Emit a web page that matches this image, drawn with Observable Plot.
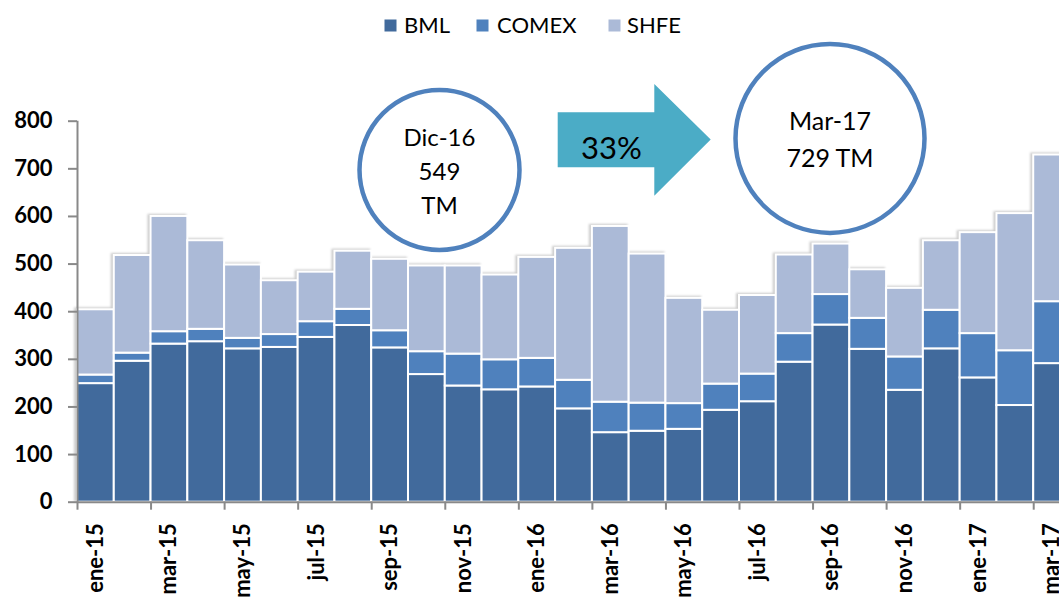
<!DOCTYPE html>
<html>
<head>
<meta charset="utf-8">
<script src="https://cdn.jsdelivr.net/npm/d3@7"></script>
<script src="https://cdn.jsdelivr.net/npm/@observablehq/plot@0.6"></script>
<style>
  html, body { margin: 0; padding: 0; background: #fff; overflow: hidden; }
  #wrap { position: relative; width: 1059px; height: 598px; overflow: hidden; font-family: Lato, "Open Sans", sans-serif; }
  #chart { position: absolute; left: 0; top: 0; width: 1070px; }
  #chart svg { max-width: none !important; }
  #legend { position: absolute; left: 0; top: 0; }
  #chart svg g[aria-label="y-axis tick label"] text,
  #chart svg g[aria-label="x-axis tick label"] text { font-weight: bold; }
  #chart svg g[aria-label="bar"] { filter: drop-shadow(-1.5px -0.5px 1px rgba(0,0,0,0.2)); }
</style>
</head>
<body>
<div id="wrap">
  <div id="chart"></div>
  <svg id="legend" width="1059" height="50"></svg>
</div>
<script>
// ---- data ----
const months = ["ene-15","feb-15","mar-15","abr-15","may-15","jun-15","jul-15","ago-15","sep-15","oct-15","nov-15","dic-15",
                "ene-16","feb-16","mar-16","abr-16","may-16","jun-16","jul-16","ago-16","sep-16","oct-16","nov-16","dic-16",
                "ene-17","feb-17","mar-17"];
const bml   = [249,296,332,337,322,325,346,371,324,268,244,236,242,196,146,149,153,193,211,294,372,321,235,322,261,203,291];
const comex = [18,17,26,26,22,27,33,34,36,48,67,63,60,60,64,59,54,55,58,60,64,65,70,81,93,115,130];
const shfe  = [137,205,242,186,154,113,104,122,150,180,185,178,212,277,369,313,221,155,165,165,106,102,144,146,212,288,308];
const series = ["BML","COMEX","SHFE"];
const colors = ["#416A9C","#4F81BD","#ABBAD7"];
const xTickLabels = ["ene-15","mar-15","may-15","jul-15","sep-15","nov-15","ene-16","mar-16","may-16","jul-16","sep-16","nov-16","ene-17","mar-17"];
const yTicks = [0,100,200,300,400,500,600,700,800];
const annoLeft = ["Dic-16","549","TM"];
const annoRight = ["Mar-17","729 TM"];
const annoPct = "33%";

// ---- table ----
const vals = {BML: bml, COMEX: comex, SHFE: shfe};
const rows = [];
months.forEach((m, i) => series.forEach(s => rows.push({month: m, series: s, value: vals[s][i]})));

const W = 1070, H = 598, ML = 77, MR = 0, MT = 120.7, MB = 96.3;
const bw = (W - ML - MR) / months.length;
const axisGray = "#898989";

const chart = Plot.plot({
  width: W, height: H,
  marginLeft: ML, marginRight: MR, marginTop: MT, marginBottom: MB,
  style: {fontFamily: "Lato, 'Open Sans', sans-serif", background: "transparent", color: "#000", overflow: "visible", maxWidth: "none"},
  x: {domain: months, padding: 0, round: false, label: null},
  y: {domain: [0, 800], label: null},
  color: {domain: series, range: colors},
  marks: [
    Plot.barY(rows, {x: "month", y: "value", fill: "series", stroke: "white", strokeWidth: 2}),
    Plot.ruleY([0], {stroke: axisGray, strokeWidth: 2}),
    Plot.ruleX([months[0]], {y1: 0, y2: 800, dx: -bw / 2, stroke: axisGray, strokeWidth: 2}),
    Plot.axisY({ticks: yTicks, tickSize: 9, tickPadding: 16, fontSize: 22, stroke: axisGray, strokeWidth: 2, fill: "#000"}),
    Plot.axisX({ticks: xTickLabels, tickSize: 8, tickFormat: () => "", dx: -bw / 2, stroke: axisGray, strokeWidth: 2}),
    Plot.axisX({ticks: xTickLabels, tickSize: 0, tickPadding: 21, tickRotate: -90, fontSize: 22, fill: "#000"})
  ]
});
document.getElementById("chart").appendChild(chart);

// ---- annotations ----
const svg = d3.select(chart);
const ann = svg.append("g").attr("font-family", "Lato, 'Open Sans', sans-serif").attr("fill", "#000");
// left circle
ann.append("circle").attr("cx", 439.5).attr("cy", 170).attr("r", 80)
  .attr("fill", "#fff").attr("stroke", "#4F81BD").attr("stroke-width", 4.5);
[145.7, 180, 214.3].forEach((y, i) =>
  ann.append("text").attr("x", 439.5).attr("y", y).attr("text-anchor", "middle").attr("font-size", 24).text(annoLeft[i]));
// arrow
ann.append("polygon")
  .attr("points", "557.7,112.3 654.3,112.3 654.3,84 710.7,139.6 654.3,195.7 654.3,167.3 557.7,167.3")
  .attr("fill", "#4BACC6");
ann.append("text").attr("x", 611.5).attr("y", 159).attr("text-anchor", "middle").attr("font-size", 31).text(annoPct);
// right circle
ann.append("circle").attr("cx", 830).attr("cy", 138.4).attr("r", 94.5)
  .attr("fill", "#fff").attr("stroke", "#4F81BD").attr("stroke-width", 4.5);
[130, 166.7].forEach((y, i) =>
  ann.append("text").attr("x", 830).attr("y", y).attr("text-anchor", "middle").attr("font-size", 25).text(annoRight[i]));

// ---- legend ----
const lg = d3.select("#legend").attr("font-family", "Lato, 'Open Sans', sans-serif");
const sqX = [384.5, 476.5, 608.5], txX = [404, 497, 627];
series.forEach((s, i) => {
  lg.append("rect").attr("x", sqX[i]).attr("y", 19.5).attr("width", 12).attr("height", 12).attr("fill", colors[i]);
  lg.append("text").attr("x", txX[i]).attr("y", 33).attr("font-size", 22).attr("fill", "#000").text(s);
});
</script>
</body>
</html>
